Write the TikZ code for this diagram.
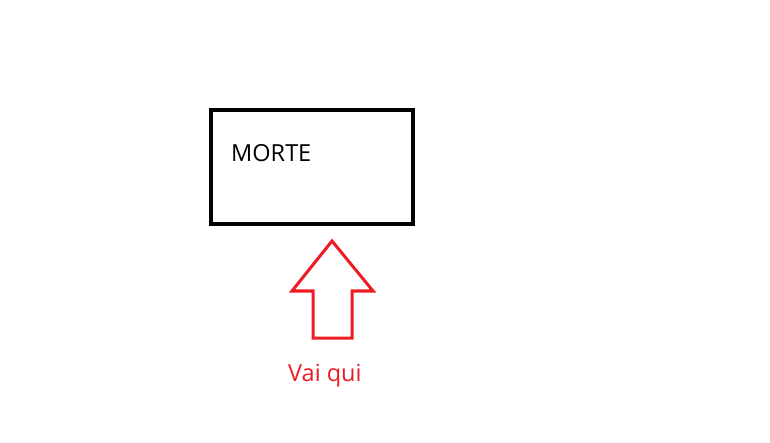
\documentclass[tikz,border=0pt]{standalone}
\usepackage{fontspec}
\setmainfont{Open Sans}
\definecolor{pred}{RGB}{237,28,36}
\tikzset{
  box/.style={draw=black, line width=4pt},
  arrowshape/.style={draw=pred, line width=3pt, line join=miter},
  lbl/.style={inner sep=0pt, anchor=base west, font=\fontsize{23.5}{28}\selectfont}
}
\begin{document}
\begin{tikzpicture}[x=1pt,y=-1pt]
\useasboundingbox (0,0) rectangle (770,443);
\node[box, minimum width=202pt, minimum height=114pt, anchor=north west, inner sep=0pt] (rect) at (209,108) {};
\node[lbl] (morte) at (231,162) {MORTE};
\coordinate (tip) at (332,241);
\draw[arrowshape] (tip) -- (292,291) -- (313,291) -- (313,338) -- (352,338) -- (352,291) -- (373,291) -- cycle;
\node[lbl, text=pred] (vai) at (288,381) {Vai qui};
\end{tikzpicture}
\end{document}
